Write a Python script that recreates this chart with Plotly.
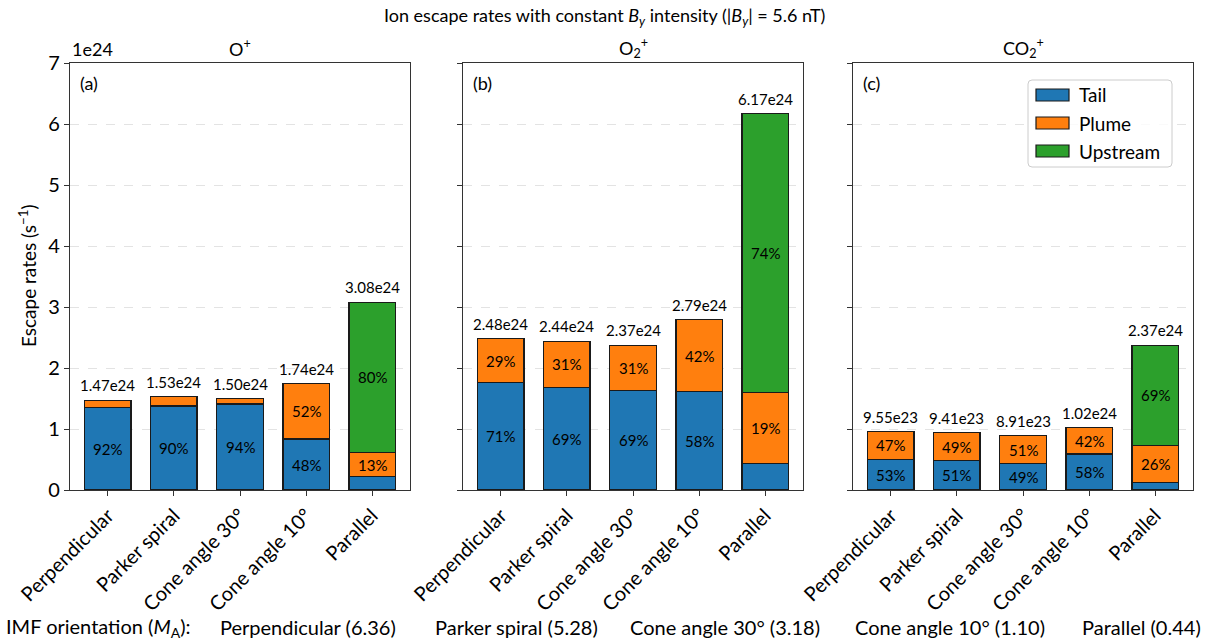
import plotly.graph_objects as go

# IMF orientations (x categories) and Alfvén Mach numbers
categories = ["Perpendicular", "Parker spiral", "Cone angle 30°", "Cone angle 10°", "Parallel"]
mach_numbers = [6.36, 5.28, 3.18, 1.10, 0.44]

ion_titles = ["O<sup>+</sup>", "O<sub>2</sub><sup>+</sup>", "CO<sub>2</sub><sup>+</sup>"]
panel_tags = ["(a)", "(b)", "(c)"]

# Total escape rates (s^-1)
total_O = [1.47e24, 1.53e24, 1.50e24, 1.74e24, 3.08e24]
total_O2 = [2.48e24, 2.44e24, 2.37e24, 2.79e24, 6.17e24]
total_CO2 = [9.55e23, 9.41e23, 8.91e23, 1.02e24, 2.37e24]

# Share of each escape channel (%)
tail_O = [92, 90, 94, 48, 7]
plume_O = [8, 10, 6, 52, 13]
upstream_O = [0, 0, 0, 0, 80]

tail_O2 = [71, 69, 69, 58, 7]
plume_O2 = [29, 31, 31, 42, 19]
upstream_O2 = [0, 0, 0, 0, 74]

tail_CO2 = [53, 51, 49, 58, 5]
plume_CO2 = [47, 49, 51, 42, 26]
upstream_CO2 = [0, 0, 0, 0, 69]

channels = ["Tail", "Plume", "Upstream"]
colors = ["#1f77b4", "#ff7f0e", "#2ca02c"]

panels = [
    (total_O, [tail_O, plume_O, upstream_O]),
    (total_O2, [tail_O2, plume_O2, upstream_O2]),
    (total_CO2, [tail_CO2, plume_CO2, upstream_CO2]),
]

FONT = "Lato"
W, H = 1208, 643
TOP, BOTTOM = 63, 490
scale = 1e24

def xp(px):
    return px / W

def yp(py):
    return (BOTTOM - py) / (BOTTOM - TOP)

domains = [(70, 410), (463, 803), (853, 1193)]

fig = go.Figure()
annotations = []
shapes = []

for i, (totals, shares) in enumerate(panels):
    xa = "x" if i == 0 else f"x{i+1}"
    ya = "y" if i == 0 else f"y{i+1}"
    for ch, pct, col in zip(channels, shares, colors):
        heights = [t * p / 100 / scale if p > 0 else None for t, p in zip(totals, pct)]
        fig.add_trace(go.Bar(
            x=categories, y=heights, name=ch, xaxis=xa, yaxis=ya,
            width=0.7, marker=dict(color=col, line=dict(color="#1a1a1a", width=1.2)),
            showlegend=False, hoverinfo="skip",
        ))
        # percentage labels centred in segments larger than 10 %
        base = [sum(t * s[j] / 100 / scale for s in shares[:shares.index(pct)]) for j, t in enumerate(totals)]
        for j, (c, t, p) in enumerate(zip(categories, totals, pct)):
            if p > 10:
                annotations.append(dict(
                    x=c, y=base[j] + t * p / 100 / scale / 2, xref=xa, yref=ya, text=f"{p}%",
                    showarrow=False, xanchor="center", yanchor="middle",
                    font=dict(family=FONT, size=15, color="black"),
                ))
    for c, t in zip(categories, totals):
        label = f"{t:.2e}".replace("e+", "e")
        annotations.append(dict(
            x=c, y=t / scale, xref=xa, yref=ya, text=label, showarrow=False,
            xanchor="center", yanchor="bottom", yshift=4,
            font=dict(family=FONT, size=15, color="black"),
        ))
    x0, x1 = domains[i]
    annotations.append(dict(
        x=xp((x0 + x1) / 2), y=yp(48), xref="paper", yref="paper", text=ion_titles[i],
        showarrow=False, xanchor="center", yanchor="middle",
        font=dict(family=FONT, size=18, color="black"),
    ))
    annotations.append(dict(
        x=xp(x0 + 8), y=yp(83), xref="paper", yref="paper", text=panel_tags[i],
        showarrow=False, xanchor="left", yanchor="middle", font=dict(family=FONT, size=18, color="black"),
    ))

axis_common = dict(showline=True, linecolor="#333333", linewidth=1.3, mirror=True,
                   ticks="outside", ticklen=5, tickcolor="#333333", automargin=False)

layout = dict(
    width=W, height=H, barmode="stack", plot_bgcolor="white", paper_bgcolor="white",
    margin=dict(l=0, r=0, t=TOP, b=H - BOTTOM, autoexpand=False),
    font=dict(family=FONT, color="black"),
)
for i, (x0, x1) in enumerate(domains):
    sx = "" if i == 0 else str(i + 1)
    layout[f"xaxis{sx}"] = dict(
        domain=[xp(x0), xp(x1)], anchor=f"y{sx}", type="category", categoryarray=categories,
        range=[-0.575, 4.575], tickangle=-45, tickfont=dict(family=FONT, size=20, color="black"),
        showgrid=False, **axis_common,
    )
    layout[f"yaxis{sx}"] = dict(
        domain=[0, 1], anchor=f"x{sx}", range=[0, 7], dtick=1, showticklabels=(i == 0),
        tickfont=dict(family=FONT, size=20, color="black"), showgrid=True,
        gridcolor="#e3e3e3", griddash="dash", gridwidth=1, zeroline=False, **axis_common,
    )

# axis offset, axis title and figure title
annotations.append(dict(x=xp(70), y=1, xref="paper", yref="paper", text="1e24", showarrow=False,
                        xanchor="left", yanchor="bottom", yshift=1, font=dict(family=FONT, size=18)))
annotations.append(dict(x=xp(27), y=yp(276), xref="paper", yref="paper", text="Escape rates (s<sup>−1</sup>)",
                        showarrow=False, textangle=-90, xanchor="center", yanchor="middle",
                        font=dict(family=FONT, size=19)))
annotations.append(dict(x=xp(604), y=yp(16), xref="paper", yref="paper",
                        text="Ion escape rates with constant <i>B</i><sub><i>y</i></sub> intensity (|<i>B</i><sub><i>y</i></sub>| = 5.6 nT)",
                        showarrow=False, xanchor="center", yanchor="middle", font=dict(family=FONT, size=18)))

# IMF orientation row below the panels
annotations.append(dict(x=xp(4), y=yp(627), xref="paper", yref="paper",
                        text="IMF orientation (<i>M</i><sub>A</sub>):", showarrow=False,
                        xanchor="left", yanchor="middle", font=dict(family=FONT, size=20)))
row_centers = [308, 516, 725, 950, 1141]
for c, m, px in zip(categories, mach_numbers, row_centers):
    annotations.append(dict(x=xp(px), y=yp(627), xref="paper", yref="paper",
                            text=f"{c} ({m:.2f})", showarrow=False, xanchor="center",
                            yanchor="middle", font=dict(family=FONT, size=20)))

# legend drawn inside panel (c)
lx0, lx1, ly0, ly1 = 1028, 1172, 80, 167
r = 4
path = (f"M {xp(lx0 + r)},{yp(ly0)} L {xp(lx1 - r)},{yp(ly0)} Q {xp(lx1)},{yp(ly0)} {xp(lx1)},{yp(ly0 + r)} "
        f"L {xp(lx1)},{yp(ly1 - r)} Q {xp(lx1)},{yp(ly1)} {xp(lx1 - r)},{yp(ly1)} "
        f"L {xp(lx0 + r)},{yp(ly1)} Q {xp(lx0)},{yp(ly1)} {xp(lx0)},{yp(ly1 - r)} "
        f"L {xp(lx0)},{yp(ly0 + r)} Q {xp(lx0)},{yp(ly0)} {xp(lx0 + r)},{yp(ly0)} Z")
shapes.append(dict(type="path", path=path, xref="paper", yref="paper",
                   line=dict(color="#cccccc", width=1), fillcolor="rgba(255,255,255,0.8)"))
for k, (ch, col) in enumerate(zip(channels, colors)):
    cy = 95 + k * 28
    shapes.append(dict(type="rect", xref="paper", yref="paper",
                       x0=xp(1036), x1=xp(1069), y0=yp(cy + 6), y1=yp(cy - 6),
                       fillcolor=col, line=dict(color="#1a1a1a", width=1.2)))
    annotations.append(dict(x=xp(1077), y=yp(cy), xref="paper", yref="paper", text=ch,
                            showarrow=False, xanchor="left", yanchor="middle",
                            font=dict(family=FONT, size=19)))

layout["annotations"] = annotations
layout["shapes"] = shapes
fig.update_layout(**layout)
fig.write_html("out.html")
